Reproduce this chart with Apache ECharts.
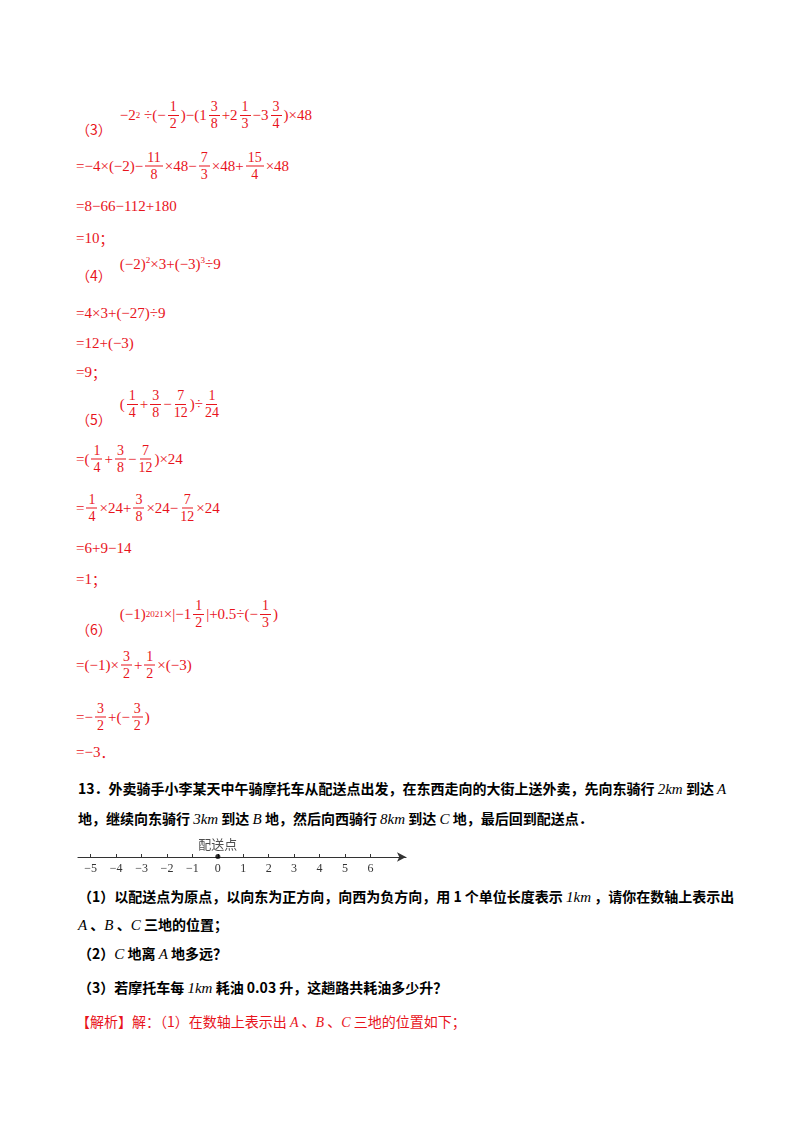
<!DOCTYPE html>
<html><head><meta charset="utf-8">
<script src="https://cdn.jsdelivr.net/npm/echarts@6/dist/echarts.min.js"></script>
<style>
body{margin:0;width:800px;height:1132px;background:#fff;position:relative;font-family:"Liberation Serif","Noto Sans CJK SC",serif;}
.l{position:absolute;left:76px;color:#e8141c;font-size:15px;white-space:nowrap;display:flex;align-items:center;transform:translateY(-50%);}
.f{display:inline-flex;flex-direction:column;align-items:center;vertical-align:middle;margin:0 2px;font-size:14px;line-height:16px;}
.f span:first-child{border-bottom:1px solid #e8141c;padding:0 2px;}
.k{color:#000;font-weight:bold;font-family:"Noto Sans CJK SC",sans-serif;font-size:14px;}
.k i{font-family:"Liberation Serif";font-weight:normal;font-size:15px;}
.c{font-family:"Noto Sans CJK SC";font-size:14px;}
sup{font-size:9px;}
#chart{position:absolute;left:60px;top:828px;width:360px;height:52px;}
</style></head><body>
<div id="chart"></div>
<script>
const ticks=[-5,-4,-3,-2,-1,0,1,2,3,4,5,6];
const originLabel="配送点";
const originPoint=[[0,0]];
function F(n,d){return '<span class="f"><span>'+n+'</span><span>'+d+'</span></span>';}
const lines=[
[122,'<span class="c" style="margin-top:14px">（3）</span><span style="margin-left:8px;margin-top:-14px;display:flex;align-items:center">−2<sup>2</sup>&nbsp;÷(−'+F(1,2)+')−(1'+F(3,8)+'+2'+F(1,3)+'−3'+F(3,4)+')×48</span>'],
[166,'=−4×(−2)−'+F(11,8)+'×48−'+F(7,3)+'×48+'+F(15,4)+'×48'],
[206,'=8−66−112+180'],
[238,'=10<span class="c">；</span>'],
[268,'<span class="c" style="margin-top:14px">（4）</span><span style="margin-left:8px;margin-top:-8px">(−2)<sup>2</sup>×3+(−3)<sup>3</sup>÷9</span>'],
[313,'=4×3+(−27)÷9'],
[343,'=12+(−3)'],
[372,'=9<span class="c">；</span>'],
[408,'<span class="c" style="margin-top:22px">（5）</span><span style="margin-left:8px;margin-top:-8px;display:flex;align-items:center">('+F(1,4)+'+'+F(3,8)+'−'+F(7,12)+')÷'+F(1,24)+'</span>'],
[459,'=('+F(1,4)+'+'+F(3,8)+'−'+F(7,12)+')×24'],
[508,'='+F(1,4)+'×24+'+F(3,8)+'×24−'+F(7,12)+'×24'],
[548,'=6+9−14'],
[579,'=1<span class="c">；</span>'],
[618,'<span class="c" style="margin-top:22px">（6）</span><span style="margin-left:8px;margin-top:-8px;display:flex;align-items:center">(−1)<sup>2021</sup>×|−1'+F(1,2)+'|+0.5÷(−'+F(1,3)+')</span>'],
[665,'=(−1)×'+F(3,2)+'+'+F(1,2)+'×(−3)'],
[717,'=−'+F(3,2)+'+(−'+F(3,2)+')'],
[752,'=−3<span class="c">．</span>'],
[788,'<span class="k">13．外卖骑手小李某天中午骑摩托车从配送点出发，在东西走向的大街上送外卖，先向东骑行 <i>2km</i> 到达 <i>A</i></span>'],
[818,'<span class="k">地，继续向东骑行 <i>3km</i> 到达 <i>B</i> 地，然后向西骑行 <i>8km</i> 到达 <i>C</i> 地，最后回到配送点．</span>'],
[896,'<span class="k">（1）以配送点为原点，以向东为正方向，向西为负方向，用 1 个单位长度表示 <i>1km</i> ，请你在数轴上表示出</span>'],
[924,'<span class="k"><i>A</i> 、<i>B</i> 、<i>C</i> 三地的位置；</span>'],
[953,'<span class="k">（2）<i>C</i> 地离 <i>A</i> 地多远？</span>'],
[987,'<span class="k">（3）若摩托车每 <i>1km</i> 耗油 0.03 升，这趟路共耗油多少升？</span>'],
[1021,'<span class="c">【解析】解：（1）在数轴上表示出 <i style="font-family:Liberation Serif">A</i> 、<i style="font-family:Liberation Serif">B</i> 、<i style="font-family:Liberation Serif">C</i> 三地的位置如下；</span>']
];
lines.forEach(([y,h],i)=>{const d=document.createElement('div');d.className='l';d.style.top=y+'px';if(i>=17&&i<=22)d.style.left='78px';d.innerHTML=h;document.body.appendChild(d);});
const ch=echarts.init(document.getElementById('chart'));
ch.setOption({animation:false,
grid:{left:18,right:14,top:28,bottom:23},
xAxis:{type:'value',min:-5.5,max:7.4,splitLine:{show:false},
 axisLine:{onZero:false,lineStyle:{color:'#333',width:1.2},symbol:['none','arrow'],symbolSize:[7,9]},
 axisTick:{inside:true,length:3,lineStyle:{color:'#333'},customValues:ticks},
 axisLabel:{customValues:ticks,color:'#333',fontSize:12,fontFamily:'Liberation Serif',margin:6,formatter:v=>v<0?'−'+(-v):String(v)}},
yAxis:{type:'value',min:-1,max:1,show:false},
series:[{type:'scatter',data:originPoint,symbolSize:5,itemStyle:{color:'#000'},
 label:{show:true,position:'top',distance:3,formatter:originLabel,color:'#222',fontSize:13,fontFamily:'Noto Sans CJK SC'}}]
});
</script>
</body></html>
